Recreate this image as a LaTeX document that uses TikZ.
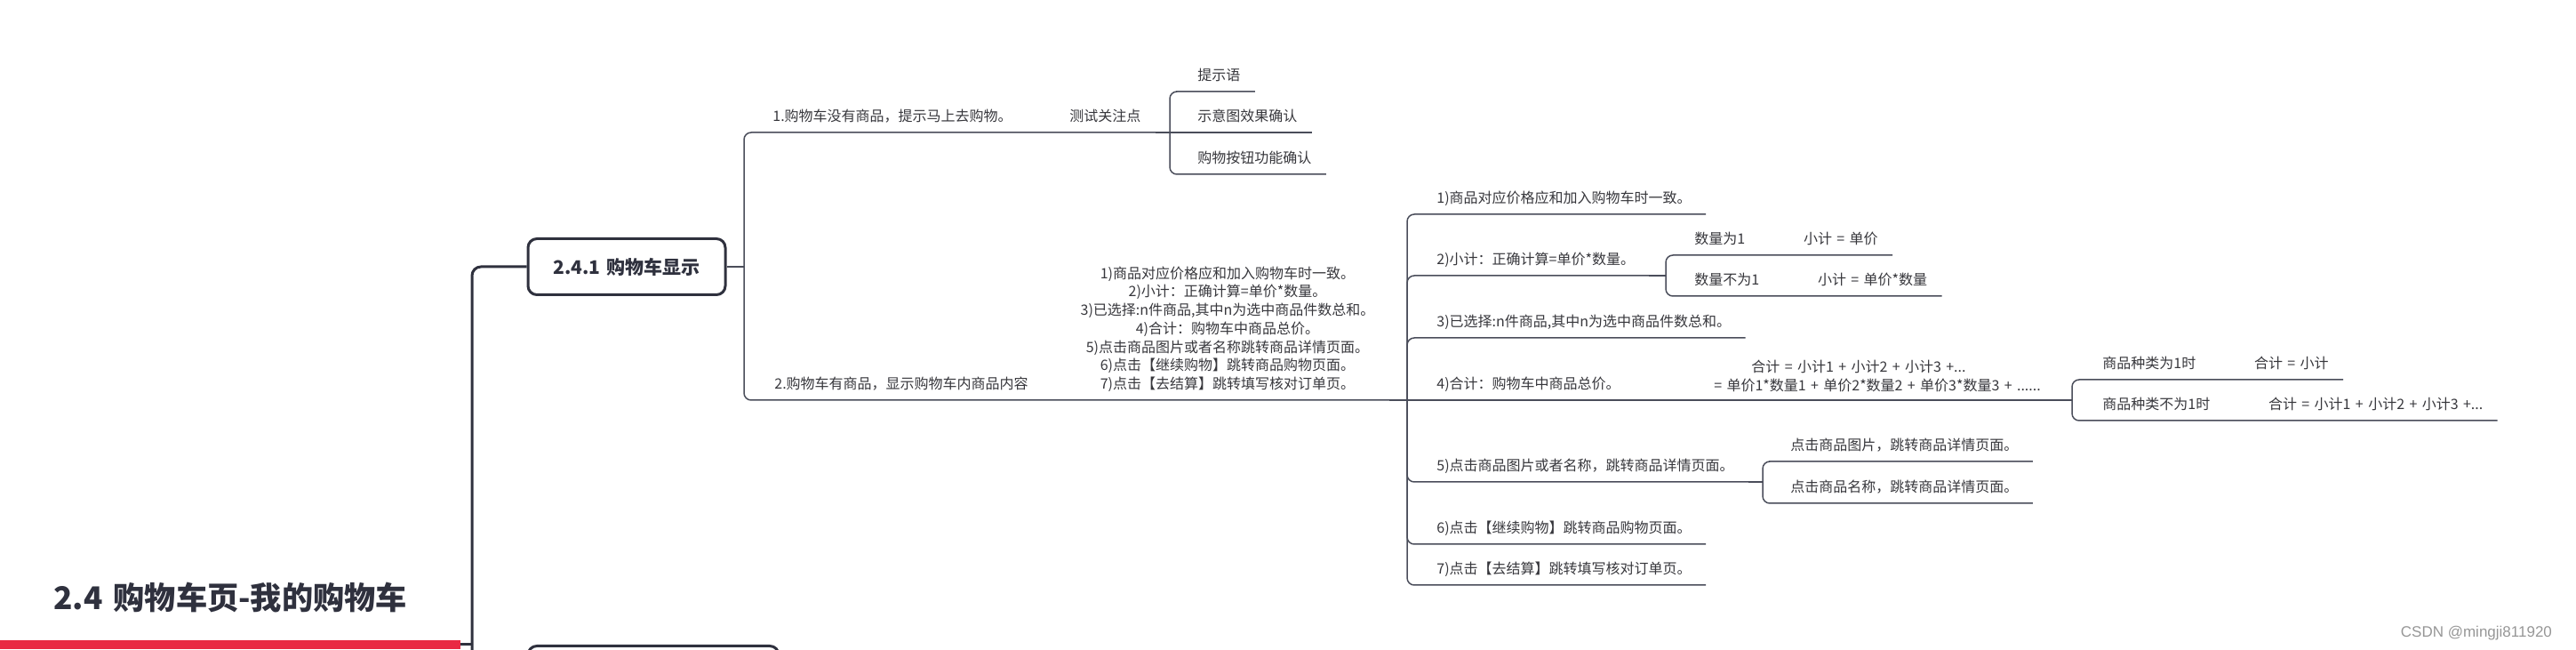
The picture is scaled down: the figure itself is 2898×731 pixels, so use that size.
\documentclass[tikz,border=0pt]{standalone}
\usepackage{fontspec}
\setmainfont[WordSpace=1.5]{Noto Sans CJK SC}
\newfontfamily\markfont{Liberation Sans}
\usetikzlibrary{positioning}
\definecolor{mapdark}{RGB}{47,49,62}
\definecolor{mapline}{RGB}{74,77,90}
\definecolor{maptext}{RGB}{55,55,60}
\definecolor{mapred}{RGB}{233,41,67}
\definecolor{markgray}{RGB}{150,150,150}
\tikzset{
  topic/.style={font=\fontsize{8pt}{10.35pt}\selectfont,text=maptext,inner xsep=8pt,inner ysep=0pt,text height=8pt,text depth=6pt,anchor=south west},
  block/.style={font=\fontsize{8pt}{10.35pt}\selectfont,text=maptext,inner xsep=8pt,inner ysep=4.5pt,align=center,anchor=south},
  subject/.style={draw=mapdark,line width=1.5pt,rounded corners=5pt,fill=white,minimum height=31.5pt,font=\bfseries\fontsize{10.5pt}{12pt}\selectfont,text=mapdark},
  trunk/.style={draw=mapdark,line width=1.5pt,rounded corners=5pt},
  branch/.style={draw=mapline,line width=0.75pt,rounded corners=4pt},
  stub/.style={draw=mapline,line width=1.4pt},
}
\begin{document}
\begin{tikzpicture}[x=0.5pt,y=-0.5pt]
        \useasboundingbox (0,0) rectangle (2898,731);
        \clip (0,0) rectangle (2898,731);
        \node[font=\bfseries\fontsize{17.6pt}{20pt}\selectfont,text=mapdark,inner xsep=30pt,inner ysep=0pt,text depth=19.5pt,anchor=south west] (root) at (0,725) {2.4 购物车页-我的购物车};
        \coordinate (t0) at (531,725);
        \node[subject,minimum width=111pt] (sub1) at (705,300) {2.4.1 购物车显示};
        \node[subject,minimum width=141pt] (sub2) at (735,758) {};
        \draw[mapred,line width=5pt] (root.south west) -- (root.south east);
        \draw[trunk] (root.south east) -- (t0);
        \draw[trunk] (t0) |- (sub1.west);
        \draw[trunk] (t0) |- (sub2.west);

        \coordinate (j1) at (837,300);
        \node[topic] (n1) at (853,149) {1.购物车没有商品，提示马上去购物。};
        \node[topic] (t1) at (1187,149) {测试关注点};
        \coordinate (j11) at (1316,149);
        \node[topic] (c11) at (1331,103) {提示语};
        \node[topic] (c12) at (1331,149) {示意图效果确认};
        \node[topic] (c13) at (1331,196) {购物按钮功能确认};

        \node[topic] (n2) at (855,450) {2.购物车有商品，显示购物车内商品内容};
        \node[block] (blk) at (1381,450) {1)商品对应价格应和加入购物车时一致。\\2)小计：正确计算=单价*数量。\\3)已选择:n件商品,其中n为选中商品件数总和。\\4)合计：购物车中商品总价。\\5)点击商品图片或者名称跳转商品详情页面。\\6)点击【继续购物】跳转商品购物页面。\\7)点击【去结算】跳转填写核对订单页。};
        \coordinate (j2) at (1583,450);
        \node[topic] (d1) at (1600,241) {1)商品对应价格应和加入购物车时一致。};
        \node[topic] (d2) at (1600,310) {2)小计：正确计算=单价*数量。};
        \node[topic] (d3) at (1600,380) {3)已选择:n件商品,其中n为选中商品件数总和。};
        \node[topic] (d4) at (1600,450) {4)合计：购物车中商品总价。};
        \node[topic] (d5) at (1600,542) {5)点击商品图片或者名称，跳转商品详情页面。};
        \node[topic] (d6) at (1600,612) {6)点击【继续购物】跳转商品购物页面。};
        \node[topic] (d7) at (1600,658) {7)点击【去结算】跳转填写核对订单页。};

        \coordinate (j21) at (1874,310);
        \node[topic] (e1) at (1890,287) {数量为1};
        \node[topic,right=16.5pt of e1] (e1r) {小计 = 单价};
        \node[topic] (e2) at (1890,333) {数量不为1};
        \node[topic,right=16.5pt of e2] (e2r) {小计 = 单价*数量};

        \node[block] (f4) at (2112,450) {合计 = 小计1 + 小计2 + 小计3 +...\hspace*{21pt}\\= 单价1*数量1 + 单价2*数量2 + 单价3*数量3 + ......};
        \coordinate (j22) at (2331,450);
        \node[topic] (g1) at (2349,427) {商品种类为1时};
        \node[topic,right=16.5pt of g1] (g1r) {合计 = 小计};
        \node[topic] (g2) at (2349,473) {商品种类不为1时};
        \node[topic,right=16.5pt of g2] (g2r) {合计 = 小计1 + 小计2 + 小计3 +...};

        \coordinate (j23) at (1983,542);
        \node[topic] (h1) at (1998,519) {点击商品图片，跳转商品详情页面。};
        \node[topic] (h2) at (1998,566) {点击商品名称，跳转商品详情页面。};

        \node[font=\markfont\fontsize{8.5pt}{10pt}\selectfont,text=markgray,anchor=east] (mark) at (2878,712) {CSDN @mingji811920};

        \draw[branch] (sub1.east) -- (j1);
        \draw[branch] (j1) |- (n1.south west) -- (t1.south east);
        \draw[stub] (t1.south east) -- (j11);
        \draw[branch] (j11) |- (c11.south west) -- (c11.south east);
        \draw[branch] (j11) -- (c12.south west) -- (c12.south east);
        \draw[branch] (j11) |- (c13.south west) -- (c13.south east);

        \draw[branch] (j1) |- (n2.south west) -- (blk.south east);
        \draw[stub] (blk.south east) -- (j2);
        \foreach \d in {d1,d2,d3,d5,d6,d7}
          \draw[branch] (j2) |- (\d.south west) -- (\d.south east);
        \draw[branch] (j2) -- (d4.south west) -- (f4.south east);

        \draw[stub] (d2.south east) -- (j21);
        \draw[branch] (j21) |- (e1.south west) -- (e1r.south east);
        \draw[branch] (j21) |- (e2.south west) -- (e2r.south east);
        \draw[stub] (f4.south east) -- (j22);
        \draw[branch] (j22) |- (g1.south west) -- (g1r.south east);
        \draw[branch] (j22) |- (g2.south west) -- (g2r.south east);
        \draw[stub] (d5.south east) -- (j23);
        \draw[branch] (j23) |- (h1.south west) -- (h1.south east);
        \draw[branch] (j23) |- (h2.south west) -- (h2.south east);
      \end{tikzpicture}
\end{document}
